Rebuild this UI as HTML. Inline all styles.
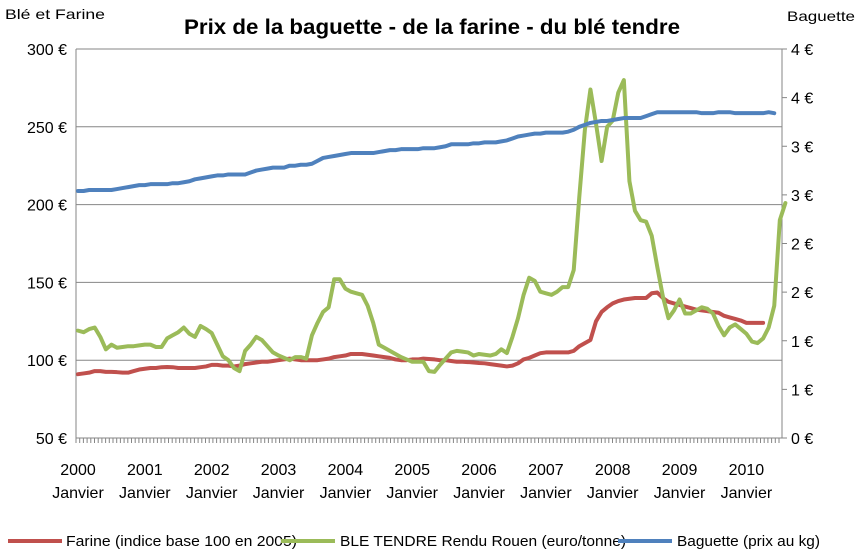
<!DOCTYPE html>
<html><head><meta charset="utf-8"><style>
body{margin:0;background:#fff;}
svg{display:block;font-family:"Liberation Sans",Arial,sans-serif;}
</style></head><body>
<svg id="chart" width="862" height="558" viewBox="0 0 862 558">
<text x="184" y="34" font-size="21" font-weight="bold" fill="#000" textLength="496" lengthAdjust="spacingAndGlyphs">Prix de la baguette - de la farine  - du blé tendre</text>
<text x="5" y="19" font-size="14" fill="#000" textLength="100" lengthAdjust="spacingAndGlyphs">Blé et Farine</text>
<text x="787" y="21" font-size="14" fill="#000" textLength="68" lengthAdjust="spacingAndGlyphs">Baguette</text>
<g id="grid"></g><g id="axes"></g><g id="series"></g>
<g>
<line x1="8" y1="541" x2="62" y2="541" stroke="#c0504d" stroke-width="4"/>
<text x="66" y="546" font-size="15" textLength="231" lengthAdjust="spacingAndGlyphs">Farine (indice base 100 en 2005)</text>
<line x1="281" y1="541" x2="335" y2="541" stroke="#9bbb59" stroke-width="4"/>
<text x="340" y="546" font-size="15" textLength="286" lengthAdjust="spacingAndGlyphs">BLE TENDRE Rendu Rouen (euro/tonne)</text>
<line x1="618" y1="541" x2="672" y2="541" stroke="#4f81bd" stroke-width="4"/>
<text x="677" y="546" font-size="15" textLength="143" lengthAdjust="spacingAndGlyphs">Baguette (prix au kg)</text>
</g>
</svg>
<script>
const leftTicks=[50,100,150,200,250,300];
const rightTicks=[0,0.5,1,1.5,2,2.5,3,3.5,4];
const rightTickLabels=["0 €","1 €","1 €","2 €","2 €","3 €","3 €","4 €","4 €"];
const years=["2000","2001","2002","2003","2004","2005","2006","2007","2008","2009","2010"];
const farine=[91,91.5,92,93,93,92.5,92.5,92.3,92,92,93,94,94.5,95,95,95.5,95.6,95.5,95,95,95,95,95.5,96,97,97,96.5,96.5,96,96.5,97.5,98,98.5,99,99,99.5,100,100.5,101,100.5,100,100,100,100,100.5,101,102,102.5,103,104,104,104,103.5,103,102.5,102,101.5,100.5,100,100,100.5,100.5,101,100.8,100.5,100,100,99.5,99,99,98.8,98.5,98.2,98,97.5,97,96.5,96,96.5,98,100.5,101.5,103,104.5,105,105,105,105,105,106,109,111,113,125,131,134,136.5,138,139,139.5,140,140,140,143,143.5,140,137.5,136.5,135.5,134.5,133.5,132.5,132,131.5,131,130.5,128.5,127.5,126.5,125.5,124,124,124,124];
const ble=[119,118,120,121,115,107,110,108,108.5,109,109,109.5,110,110,108.5,108.5,114,116,118,121,117,115,122,120,117.5,110,102.5,100,95,93,106,110,115,113,109,105,103,101.5,100,102,102,101,116,124,131,134,152,152,146,144,143,142,135,124,110,108,106,104,102,100.5,99,99,99,93,92.5,97,101,105,106,105.5,105,103,104,103.5,103,104,107,104.6,115,127,142,153,151,144,143,142,144,147,147,158,205,248,274,252,228,250,254,272,280,215,196,190,189,180,160,141,127,132,139,130,130,132,134,133,130,122,116,121,123,120,117,112,111,114,121,135,190,201];
const baguette=[2.54,2.54,2.55,2.55,2.55,2.55,2.55,2.56,2.57,2.58,2.59,2.60,2.60,2.61,2.61,2.61,2.61,2.62,2.62,2.63,2.64,2.66,2.67,2.68,2.69,2.70,2.70,2.71,2.71,2.71,2.71,2.73,2.75,2.76,2.77,2.78,2.78,2.78,2.80,2.80,2.81,2.81,2.82,2.85,2.88,2.89,2.90,2.91,2.92,2.93,2.93,2.93,2.93,2.93,2.94,2.95,2.96,2.96,2.97,2.97,2.97,2.97,2.98,2.98,2.98,2.99,3.00,3.02,3.02,3.02,3.02,3.03,3.03,3.04,3.04,3.04,3.05,3.06,3.08,3.10,3.11,3.12,3.13,3.13,3.14,3.14,3.14,3.14,3.15,3.17,3.20,3.22,3.24,3.25,3.26,3.26,3.27,3.28,3.29,3.29,3.29,3.29,3.31,3.33,3.35,3.35,3.35,3.35,3.35,3.35,3.35,3.35,3.34,3.34,3.34,3.35,3.35,3.35,3.34,3.34,3.34,3.34,3.34,3.34,3.35,3.34];

const NS="http://www.w3.org/2000/svg";
const X0=76,X1=782,Y0=438,Y1=49,MX=78,MSTEP=5.57;
const xAt=i=>MX+i*MSTEP;
const yL=v=>Y0-(v-50)/250*(Y0-Y1);
const yR=v=>Y0-v/4*(Y0-Y1);
function mk(tag,attrs,parent){const e=document.createElementNS(NS,tag);for(const k in attrs)e.setAttribute(k,attrs[k]);parent.appendChild(e);return e;}
const grid=document.getElementById('grid'),axes=document.getElementById('axes'),ser=document.getElementById('series');
leftTicks.forEach(v=>{
  if(v>50){const g=mk('line',{x1:X0,x2:X1,y1:yL(v),y2:yL(v),stroke:'#868686','stroke-width':1},grid);
  
  }
  const t=mk('text',{x:67,y:yL(v)+6,'text-anchor':'end','font-size':16},axes);
  t.textContent=v+' €';
  
  
});
rightTicks.forEach((v,k)=>{
  mk('line',{x1:X1,x2:X1+5,y1:yR(v),y2:yR(v),stroke:'#868686'},axes);
  const t=mk('text',{x:791,y:yR(v)+6,'font-size':16},axes);
  t.textContent=rightTickLabels[k];
  
  
});
let a=mk('line',{x1:X0,x2:X0,y1:Y1,y2:Y0,stroke:'#868686'},axes);


a=mk('line',{x1:X1,x2:X1,y1:Y1,y2:Y0,stroke:'#868686'},axes);


a=mk('line',{x1:X0,x2:X1,y1:Y0,y2:Y0,stroke:'#868686'},axes);


for(let x=X0;x<=X1;x+=3.7){mk('line',{x1:x,x2:x,y1:Y0,y2:Y0+5,stroke:'#868686'},axes);}
years.forEach((y,k)=>{
  const cx=xAt(k*12);
  const t=mk('text',{x:cx,y:475,'text-anchor':'middle','font-size':16},axes);
  t.textContent=y;
  
  
  const t2=mk('text',{x:cx,y:498,'text-anchor':'middle','font-size':16},axes);
  t2.textContent='Janvier';
  
  
});
function line(arr,yf,color,name){
  const p=mk('polyline',{points:arr.map((v,i)=>xAt(i)+','+yf(v)).join(' '),fill:'none',stroke:color,'stroke-width':4,'stroke-linejoin':'round','stroke-linecap':'round'},ser);
  
  
}
line(farine,yL,'#c0504d','farine-line');
line(ble,yL,'#9bbb59','ble-tendre-line');
line(baguette,yR,'#4f81bd','baguette-line');
</script>
</body></html>
